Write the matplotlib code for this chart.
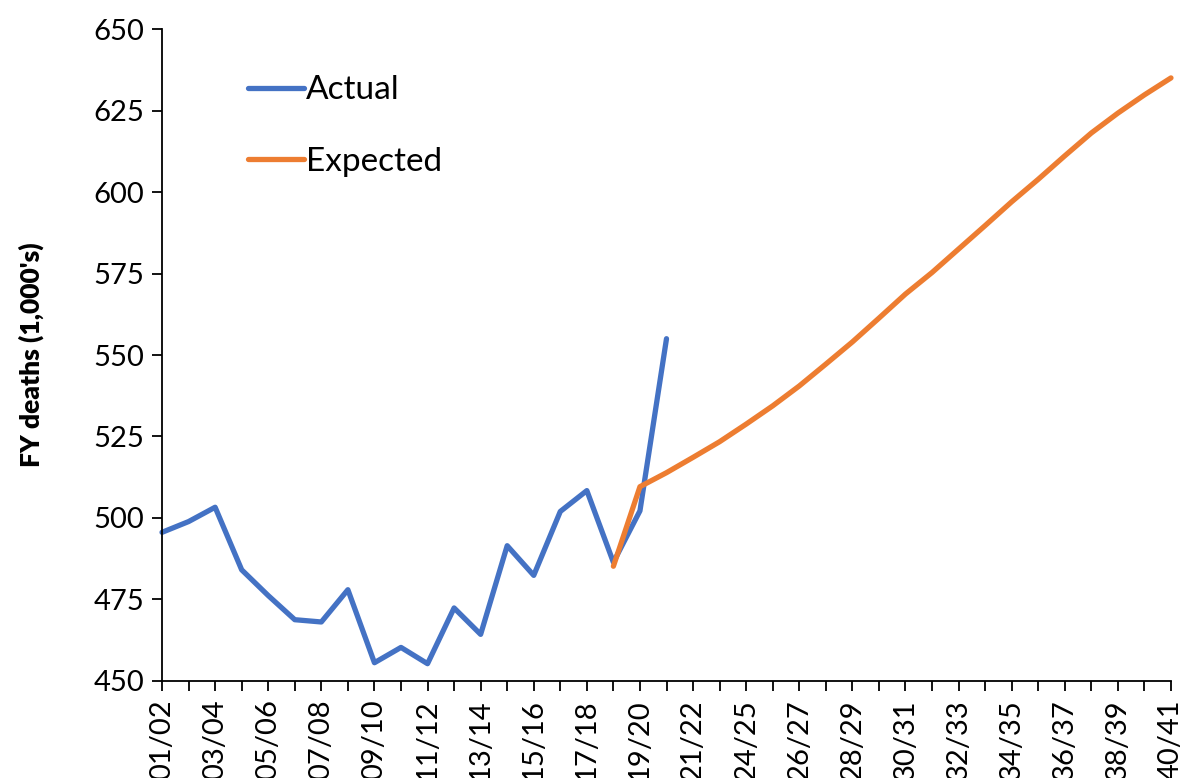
import matplotlib
matplotlib.use('Agg')
import matplotlib.pyplot as plt
import numpy as np

# financial years on the category axis (22/23 is not in the source series)
years = ["01/02", "02/03", "03/04", "04/05", "05/06", "06/07", "07/08", "08/09",
         "09/10", "10/11", "11/12", "12/13", "13/14", "14/15", "15/16", "16/17",
         "17/18", "18/19", "19/20", "20/21", "21/22", "23/24", "24/25", "25/26",
         "26/27", "27/28", "28/29", "29/30", "30/31", "31/32", "32/33", "33/34",
         "34/35", "35/36", "36/37", "37/38", "38/39", "39/40", "40/41"]

# deaths in thousands
actual = [495.6, 498.9, 503.3, 484.1, 476.2, 468.8, 468.1, 478.0, 455.6, 460.3,
          455.3, 472.4, 464.3, 491.5, 482.4, 502.0, 508.4, 486.4, 502.2, 555.0]
expected_start = 17
expected = [485.2, 509.6, 513.9, 518.6, 523.4, 528.8, 534.4, 540.5, 547.2, 554.0,
            561.3, 568.7, 575.3, 582.5, 589.7, 597.0, 603.9, 611.1, 618.1, 624.2,
            629.8, 635.0]

plt.rcParams['font.family'] = ['Lato', 'DejaVu Sans']

fig = plt.figure(figsize=(11.87, 7.78), dpi=100)
ax = fig.add_axes([0.1365, 0.1247, 0.85, 0.838])

x_act = np.arange(len(actual))
x_exp = np.arange(expected_start, expected_start + len(expected))

ax.plot(x_act, actual, color='#4472C4', lw=3.8, solid_capstyle='round',
        solid_joinstyle='round', label='Actual', clip_on=False)
ax.plot(x_exp, expected, color='#ED7D31', lw=3.8, solid_capstyle='round',
        solid_joinstyle='round', label='Expected', clip_on=False)

ax.set_xlim(0, len(years) - 1)
ax.set_ylim(450, 650)
ax.set_yticks(np.arange(450, 651, 25))

ax.set_xticks(np.arange(len(years)))
ax.set_xticklabels([y if i % 2 == 0 else '' for i, y in enumerate(years)],
                   rotation=90, fontsize=21)
ax.tick_params(axis='y', labelsize=21, length=7, width=1.3, pad=6)
ax.tick_params(axis='x', length=7, width=1.3, pad=6)

for s in ['top', 'right']:
    ax.spines[s].set_visible(False)
for s in ['left', 'bottom']:
    ax.spines[s].set_linewidth(1.3)

ax.set_ylabel("FY deaths (1,000's)", fontsize=19, fontweight='heavy')
ax.yaxis.set_label_coords(-0.117, 0.5)

leg = ax.legend(loc='upper left', bbox_to_anchor=(0.055, 0.975), frameon=False,
                fontsize=24, handlelength=1.7, handletextpad=0.05, labelspacing=1.25)

fig.savefig('out.png', dpi=100)
